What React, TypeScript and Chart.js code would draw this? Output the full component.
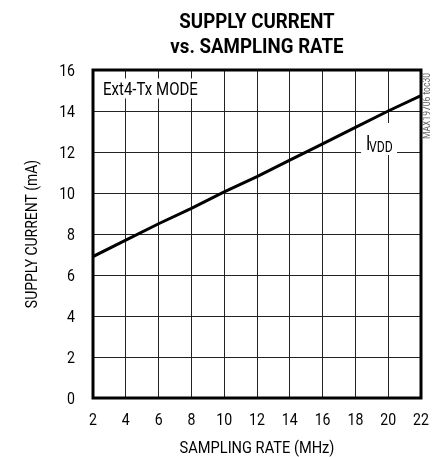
import React, { useEffect, useRef } from "react";
import { Chart, registerables } from "chart.js";

Chart.register(...registerables);

const samplingRate = [2, 4, 6, 8, 10, 12, 14, 16, 18, 20, 22];
const iVdd = [6.9, 7.7, 8.5, 9.25, 10.05, 10.8, 11.6, 12.4, 13.2, 14.0, 14.75];
const xTicks = [2, 4, 6, 8, 10, 12, 14, 16, 18, 20, 22];
const yTicks = [0, 2, 4, 6, 8, 10, 12, 14, 16];
const titleLines = ["SUPPLY CURRENT", "vs. SAMPLING RATE"];
const xTitle = "SAMPLING RATE (MHz)";
const yTitle = "SUPPLY CURRENT (mA)";
const modeLabel = "Ext4-Tx MODE";
const seriesLabelMain = "I";
const seriesLabelSub = "VDD";
const codeLabel = "MAX19706 toc30";

const FONT = 'Roboto, "Liberation Sans", sans-serif';

function txt(
  ctx: CanvasRenderingContext2D,
  s: string,
  x: number,
  y: number,
  font: string,
  sx: number,
  align: CanvasTextAlign,
  baseline: CanvasTextBaseline,
  rot = 0
) {
  ctx.save();
  ctx.translate(x, y);
  if (rot) ctx.rotate(rot);
  ctx.scale(sx, 1);
  ctx.font = font;
  ctx.textAlign = align;
  ctx.textBaseline = baseline;
  ctx.fillText(s, 0, 0);
  ctx.restore();
}

const decorPlugin = {
  id: "decor",
  beforeDatasetsDraw(chart: any) {
    const ctx = chart.ctx;
    const xs = chart.scales.x;
    const ys = chart.scales.y;
    ctx.save();
    // mode label with white box
    const mx = chart.chartArea.left + 10;
    const my = ys.getPixelForValue(15.1);
    ctx.fillStyle = "#fff";
    ctx.fillRect(mx - 2, my - 10, 98, 20);
    ctx.fillStyle = "#000";
    txt(ctx, modeLabel, mx, my + 7, `19px ${FONT}`, 0.79, "left", "alphabetic");
    // IVDD label
    const lx = xs.getPixelForValue(18.65);
    const ly = ys.getPixelForValue(12);
    ctx.fillStyle = "#fff";
    ctx.fillRect(lx - 5, ly - 29, 36, 32);
    ctx.fillStyle = "#000";
    txt(ctx, seriesLabelMain, lx, ly - 2, `20px ${FONT}`, 0.8, "left", "alphabetic");
    txt(ctx, seriesLabelSub, lx + 3, ly, `14px ${FONT}`, 0.87, "left", "alphabetic");
    ctx.restore();
  },
  afterDraw(chart: any) {
    const ctx = chart.ctx;
    const xs = chart.scales.x;
    const ys = chart.scales.y;
    const { left, right, top, bottom } = chart.chartArea;
    ctx.save();
    ctx.strokeStyle = "#000";
    ctx.lineWidth = 3;
    ctx.strokeRect(left, top, right - left, bottom - top);
    ctx.fillStyle = "#000";
    // ticks
    for (const v of xTicks) {
      txt(ctx, String(v), xs.getPixelForValue(v), 425, `17px ${FONT}`, 0.83, "center", "alphabetic");
    }
    for (const v of yTicks) {
      txt(ctx, String(v), 75, ys.getPixelForValue(v) + 6, `17px ${FONT}`, 0.83, "right", "alphabetic");
    }
    // title
    const cx = (left + right) / 2;
    txt(ctx, titleLines[0], cx, 28, `bold 21px ${FONT}`, 0.89, "center", "alphabetic");
    txt(ctx, titleLines[1], cx, 53, `bold 21px ${FONT}`, 0.89, "center", "alphabetic");
    // axis titles
    txt(ctx, xTitle, cx, 453, `17px ${FONT}`, 0.86, "center", "alphabetic");
    txt(ctx, yTitle, 37, (top + bottom) / 2, `17px ${FONT}`, 0.82, "center", "alphabetic", -Math.PI / 2);
    // code label
    ctx.fillStyle = "#666";
    txt(ctx, codeLabel, 430, 106, `10px ${FONT}`, 0.85, "center", "alphabetic", -Math.PI / 2);
    ctx.restore();
  },
};

export default function App() {
  const ref = useRef<HTMLCanvasElement>(null);
  useEffect(() => {
    document.body.style.margin = "0";
    const chart = new Chart(ref.current!, {
      type: "line",
      data: {
        datasets: [
          {
            data: samplingRate.map((x, i) => ({ x, y: iVdd[i] })),
            borderColor: "#000",
            borderWidth: 3,
            pointRadius: 0,
            tension: 0,
          },
        ],
      },
      options: {
        animation: false,
        responsive: false,
        devicePixelRatio: 1,
        layout: { padding: { top: 70, right: 11, left: 0, bottom: 0 } },
        plugins: { legend: { display: false }, tooltip: { enabled: false } },
        scales: {
          x: {
            type: "linear",
            min: 2,
            max: 22,
            afterFit: (s: any) => {
              s.height = 59;
            },
            grid: { color: "#222", lineWidth: 1, drawTicks: false },
            border: { display: false },
            ticks: { stepSize: 2, display: false },
          },
          y: {
            min: 0,
            max: 16,
            afterFit: (s: any) => {
              s.width = 93;
            },
            grid: { color: "#222", lineWidth: 1, drawTicks: false },
            border: { display: false },
            ticks: { stepSize: 2, display: false },
          },
        },
      },
      plugins: [decorPlugin],
    } as any);
    return () => chart.destroy();
  }, []);
  return (
    <div style={{ position: "absolute", left: 0, top: 0, width: 432, height: 457, background: "#fff" }}>
      <canvas ref={ref} width={432} height={457} />
    </div>
  );
}
